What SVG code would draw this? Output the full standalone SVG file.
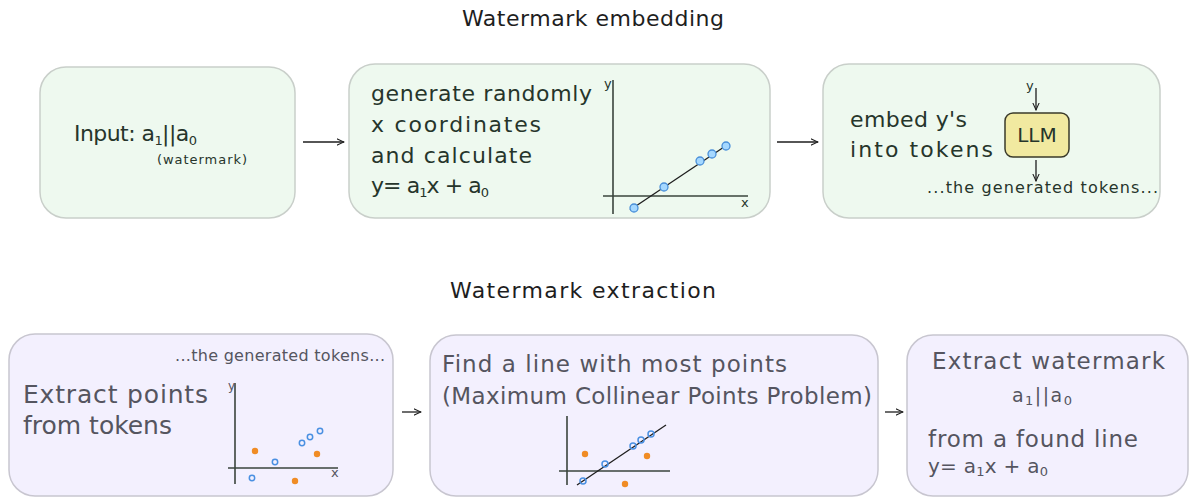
<svg xmlns="http://www.w3.org/2000/svg" width="1192" height="499" viewBox="0 0 1192 499">
<style>
text{font-family:"DejaVu Sans","Liberation Sans",sans-serif;}
.t{fill:#1e1e1e;font-size:22px;}
.g{fill:#26352b;font-size:22px;}
.ps{fill:#555560;font-size:23px;}
.p{fill:#555560;font-size:25px;}
.sub{font-size:13px;}
.lab{font-size:13px;}
.tok{font-size:16px;}
.boxg{fill:#eef9ef;stroke:#c9cfca;stroke-width:1.5;}
.boxp{fill:#f3f0fe;stroke:#c8c6d0;stroke-width:1.5;}
.ax{stroke:#3a443d;stroke-width:1.6;fill:none;}
.ln{stroke:#1e1e1e;stroke-width:1.3;fill:none;}
.bp{fill:#a5d8ff;stroke:#4a90d9;stroke-width:1.3;}
.bh{fill:none;stroke:#4a90e2;stroke-width:1.5;}
.op{fill:#f08c25;}
.conn{stroke:#1e1e1e;stroke-width:1.3;fill:none;marker-end:url(#ah);}
</style>
<defs>
<marker id="ah" viewBox="0 0 10 10" refX="9" refY="5" markerWidth="8" markerHeight="8" orient="auto" markerUnits="userSpaceOnUse">
<path d="M0,1 L9,5 L0,9" fill="none" stroke="#1e1e1e" stroke-width="1.3"/>
</marker>
</defs>
<rect width="1192" height="499" fill="#ffffff"/>
<text class="t" x="462" y="26" textLength="262" lengthAdjust="spacing">Watermark embedding</text>
<text class="t" x="450" y="298" textLength="266" lengthAdjust="spacing">Watermark extraction</text>

<g id="input">
<rect class="boxg" x="40" y="67" width="255" height="151" rx="26"/>
<text class="g" x="74" y="141" textLength="123" lengthAdjust="spacing">Input: a<tspan class="sub" dy="4">1</tspan><tspan dy="-4">||a</tspan><tspan class="sub" dy="4">0</tspan></text>
<text class="g" x="157" y="164" style="font-size:13px" textLength="90" lengthAdjust="spacing">(watermark)</text>
</g>

<g id="generate">
<rect class="boxg" x="349" y="64" width="421" height="154" rx="26"/>
<text class="g" x="371" y="101" textLength="221" lengthAdjust="spacing">generate randomly</text>
<text class="g" x="371" y="132" textLength="170" lengthAdjust="spacing">x coordinates</text>
<text class="g" x="371" y="163" textLength="161" lengthAdjust="spacing">and calculate</text>
<text class="g" x="371" y="193" textLength="118" lengthAdjust="spacing">y= a<tspan class="sub" dy="4">1</tspan><tspan dy="-4">x + a</tspan><tspan class="sub" dy="4">0</tspan></text>
<line class="ax" x1="613" y1="80" x2="613" y2="214"/>
<line class="ax" x1="603" y1="196" x2="748" y2="196"/>
<text class="g lab" x="604" y="88">y</text>
<text class="g lab" x="741" y="207">x</text>
<line class="ln" x1="630" y1="210" x2="727" y2="145"/>
<circle class="bp" cx="634" cy="208" r="4"/>
<circle class="bp" cx="664" cy="187" r="4"/>
<circle class="bp" cx="700" cy="161" r="4"/>
<circle class="bp" cx="712" cy="154" r="4"/>
<circle class="bp" cx="726" cy="146" r="4"/>
</g>

<g id="embed">
<rect class="boxg" x="823" y="64" width="337" height="154" rx="26"/>
<text class="g" x="850" y="127" textLength="117" lengthAdjust="spacing">embed y's</text>
<text class="g" x="850" y="157" textLength="143" lengthAdjust="spacing">into tokens</text>
<rect x="1005" y="113" width="64" height="44" rx="8" fill="#f1e9a0" stroke="#3a3a2a" stroke-width="1.5"/>
<text class="g" x="1037" y="142" style="font-size:20px" text-anchor="middle">LLM</text>
<text class="g lab" x="1026" y="90">y</text>
<line class="conn" x1="1036" y1="88" x2="1036" y2="110"/>
<line class="conn" x1="1036" y1="160" x2="1036" y2="181"/>
<text class="g tok" x="927" y="193" textLength="231" lengthAdjust="spacing">...the generated tokens...</text>
</g>

<g id="extract-points">
<rect class="boxp" x="9" y="334" width="384" height="162" rx="26"/>
<text class="ps tok" x="175" y="361" textLength="210" lengthAdjust="spacing">...the generated tokens...</text>
<text class="p" x="23" y="403" textLength="185" lengthAdjust="spacing">Extract points</text>
<text class="p" x="23" y="434" textLength="149" lengthAdjust="spacing">from tokens</text>
<line class="ax" x1="235" y1="383" x2="235" y2="484"/>
<line class="ax" x1="228" y1="468" x2="338" y2="468"/>
<text class="ps" x="228" y="390" style="font-size:12px">y</text>
<text class="ps" x="331" y="477" style="font-size:13px">x</text>
<circle class="bh" cx="252" cy="478" r="2.7"/>
<circle class="bh" cx="275" cy="462" r="2.7"/>
<circle class="bh" cx="302" cy="443" r="2.7"/>
<circle class="bh" cx="310" cy="437" r="2.7"/>
<circle class="bh" cx="320" cy="431" r="2.7"/>
<circle class="op" cx="255" cy="451" r="3.2"/>
<circle class="op" cx="317" cy="454" r="3.2"/>
<circle class="op" cx="295" cy="481" r="3.2"/>
</g>

<g id="find-line">
<rect class="boxp" x="430" y="335" width="448" height="161" rx="26"/>
<text class="ps" x="442" y="372" textLength="345" lengthAdjust="spacing">Find a line with most points</text>
<text class="ps" x="442" y="404" textLength="430" lengthAdjust="spacing">(Maximum Collinear Points Problem)</text>
<line class="ax" x1="567" y1="416" x2="567" y2="485"/>
<line class="ax" x1="559" y1="471" x2="670" y2="471"/>
<line class="ln" x1="577" y1="485" x2="666" y2="425" stroke="#3a3a40"/>
<circle class="bh" cx="583" cy="481" r="3"/>
<circle class="bh" cx="605" cy="464" r="3"/>
<circle class="bh" cx="633" cy="446" r="3"/>
<circle class="bh" cx="641" cy="440" r="3"/>
<circle class="bh" cx="651" cy="434" r="3"/>
<circle class="op" cx="585" cy="454" r="3.2"/>
<circle class="op" cx="647" cy="456" r="3.2"/>
<circle class="op" cx="625" cy="484" r="3.2"/>
</g>

<g id="extract-watermark">
<rect class="boxp" x="907" y="335" width="281" height="161" rx="26"/>
<text class="ps" x="932" y="369" textLength="233" lengthAdjust="spacing">Extract watermark</text>
<text class="ps" x="1012" y="402" style="font-size:19px" textLength="60" lengthAdjust="spacing">a<tspan class="sub" dy="3">1</tspan><tspan dy="-3">||a</tspan><tspan class="sub" dy="3">0</tspan></text>
<text class="ps" x="928" y="447" textLength="210" lengthAdjust="spacing">from a found line</text>
<text class="ps" x="928" y="473" style="font-size:20px" textLength="120" lengthAdjust="spacing">y= a<tspan class="sub" dy="3">1</tspan><tspan dy="-3">x + a</tspan><tspan class="sub" dy="3">0</tspan></text>
</g>

<g id="connectors">
<line class="conn" x1="303" y1="142" x2="344" y2="142"/>
<line class="conn" x1="777" y1="142" x2="818" y2="142"/>
<line class="conn" x1="402" y1="412" x2="421" y2="412"/>
<line class="conn" x1="885" y1="412" x2="903" y2="412"/>
</g>
</svg>
